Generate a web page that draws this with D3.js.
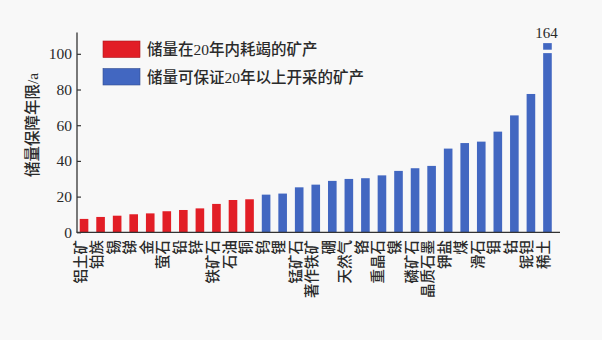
<!DOCTYPE html>
<html>
<head>
<meta charset="utf-8">
<script src="https://cdn.jsdelivr.net/npm/d3@7/dist/d3.min.js"></script>
<style>
  html, body { margin: 0; padding: 0; background: #f8f8f8; }
  svg { display: block; }
  text { font-family: "Liberation Serif", "Noto Sans CJK SC", serif; fill: #2a2a2a; }
</style>
</head>
<body>
<svg id="chart" width="602" height="340"></svg>
<script>
// Minerals whose reserves run out within 20 years
const depletedMinerals = ["铝土矿","铂族","锡","锑","金","萤石","铅","锌","铁矿石","石油","铜"];
const depletedYears    = [7.5, 8.6, 9.3, 10.1, 10.6, 11.8, 12.5, 13.4, 15.9, 18.1, 18.5];

// Minerals whose reserves last beyond 20 years
const securedMinerals = ["钨","锂","锰矿石","著作铁矿","硼","天然气","铬","重晶石","镍","磷矿石","晶质石墨","钾盐","煤","滑石","钼","钴","铌钽","稀土"];
const securedYears    = [21.1, 21.7, 25.2, 26.7, 28.8, 29.9, 30.3, 31.9, 34.4, 35.9, 37.2, 46.9, 50.0, 50.8, 56.4, 65.5, 77.5, 164];

const yTicks = [0, 20, 40, 60, 80, 100];
const legendLabels = ["储量在20年内耗竭的矿产", "储量可保证20年以上开采的矿产"];
const colors = ["#e21e26", "#4267c1"];

// Bars taller than this are drawn with a break
const breakCap = 106;

const rows = depletedMinerals.map((name, i) => ({ name, value: depletedYears[i], group: 0 }))
  .concat(securedMinerals.map((name, i) => ({ name, value: securedYears[i], group: 1 })));

const svg = d3.select("#chart");
const bg = "#f8f8f8";

const x = d3.scaleBand()
  .domain(rows.map(d => d.name))
  .range([77, 554.5])
  .paddingInner(0.48)
  .paddingOuter(0.165);

const y = d3.scaleLinear().domain([0, 112]).range([232.3, 32.4]);

// Bars
svg.append("g").selectAll("rect")
  .data(rows)
  .join("rect")
  .attr("x", d => x(d.name))
  .attr("width", x.bandwidth())
  .attr("y", d => y(Math.min(d.value, breakCap)))
  .attr("height", d => y(0) - y(Math.min(d.value, breakCap)))
  .attr("fill", d => colors[d.group]);

// Axis break on bars that exceed the cap, plus their value label
const tall = rows.filter(d => d.value > breakCap);
svg.append("g").selectAll("rect")
  .data(tall)
  .join("rect")
  .attr("x", d => x(d.name) - 1)
  .attr("width", x.bandwidth() + 2)
  .attr("y", y(breakCap - 3.7))
  .attr("height", y(breakCap - 5.6) - y(breakCap - 3.7))
  .attr("fill", bg);
svg.append("g").selectAll("text")
  .data(tall)
  .join("text")
  .attr("x", d => x(d.name) + x.bandwidth() / 2 - 1)
  .attr("y", 38)
  .attr("text-anchor", "middle")
  .attr("font-size", 15)
  .text(d => d.value);

// Y axis
const yAxis = d3.axisLeft(y).tickValues(yTicks).tickSize(-4).tickPadding(5);
const gy = svg.append("g").attr("transform", "translate(77,0)").call(yAxis);
gy.select(".domain").remove();
gy.selectAll(".tick line").attr("stroke", "#333").attr("stroke-width", 1.2);
gy.selectAll(".tick text")
  .attr("font-family", "Liberation Serif, serif")
  .attr("font-size", 15.5)
  .attr("fill", "#2a2a2a");

// Axis lines
svg.append("line")
  .attr("x1", 77).attr("x2", 77)
  .attr("y1", y(112)).attr("y2", y(0))
  .attr("stroke", "#333").attr("stroke-width", 1.3);
svg.append("line")
  .attr("x1", 76.4).attr("x2", 560)
  .attr("y1", y(0)).attr("y2", y(0))
  .attr("stroke", "#333").attr("stroke-width", 1.3);

// Category labels, rotated
svg.append("g").selectAll("text")
  .data(rows)
  .join("text")
  .attr("transform", d => `translate(${x(d.name) + x.bandwidth() / 2 - 4},240) rotate(-90)`)
  .attr("text-anchor", "end")
  .attr("dy", "0.38em")
  .attr("font-family", "Noto Sans CJK SC")
  .attr("font-weight", 500)
  .attr("font-size", 14.5)
  .text(d => d.name);

// Y axis title
svg.append("text")
  .attr("transform", "translate(33,125) rotate(-90)")
  .attr("text-anchor", "middle")
  .attr("dy", "0.35em")
  .attr("font-family", "Noto Sans CJK SC")
  .attr("font-weight", 500)
  .attr("font-size", 15.5)
  .text("储量保障年限/a");

// Legend
const legend = svg.append("g").selectAll("g")
  .data(legendLabels)
  .join("g")
  .attr("transform", (d, i) => `translate(103,${41 + i * 27.5})`);
legend.append("rect")
  .attr("width", 37).attr("height", 16.5)
  .attr("fill", (d, i) => colors[i])
  .attr("stroke", (d, i) => d3.color(colors[i]).darker(0.8))
  .attr("stroke-width", 0.6);
legend.append("text")
  .attr("x", 44).attr("y", 8.5)
  .attr("dy", "0.36em")
  .attr("font-family", "Noto Sans CJK SC")
  .attr("font-weight", 500)
  .attr("font-size", 15.5)
  .text(d => d);
</script>
</body>
</html>
